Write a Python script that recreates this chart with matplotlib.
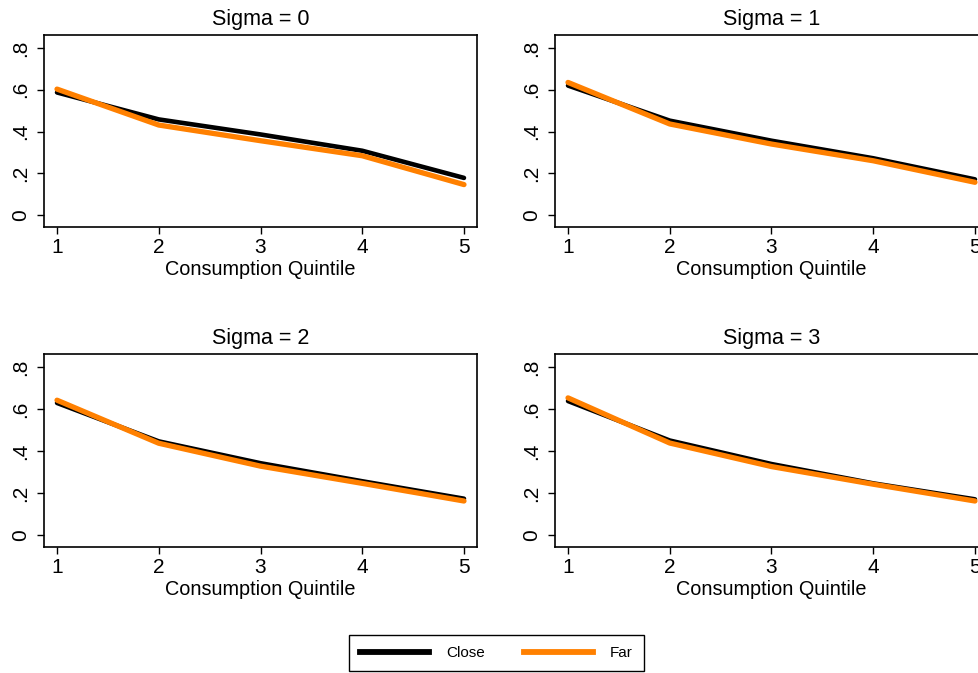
import numpy as np
import matplotlib
matplotlib.use('Agg')
import matplotlib.pyplot as plt
from matplotlib.lines import Line2D

plt.rcParams['font.family'] = ['Liberation Sans', 'DejaVu Sans']

quintiles = [1, 2, 3, 4, 5]
sigmas = [0, 1, 2, 3]

# share of households
close_s0 = [0.587, 0.458, 0.386, 0.308, 0.178]
far_s0 = [0.603, 0.431, 0.356, 0.284, 0.146]
close_s1 = [0.620, 0.452, 0.356, 0.272, 0.171]
far_s1 = [0.635, 0.436, 0.340, 0.260, 0.157]
close_s2 = [0.629, 0.446, 0.342, 0.256, 0.173]
far_s2 = [0.642, 0.437, 0.328, 0.246, 0.162]
close_s3 = [0.638, 0.450, 0.338, 0.246, 0.170]
far_s3 = [0.653, 0.438, 0.326, 0.242, 0.162]

close_all = [close_s0, close_s1, close_s2, close_s3]
far_all = [far_s0, far_s1, far_s2, far_s3]

yticks = [0, 0.2, 0.4, 0.6, 0.8]
ylabels = ['0', '.2', '.4', '.6', '.8']

orange = '#ff8000'

fig = plt.figure(figsize=(9.79, 6.73), dpi=100)

W, H = 979, 673
# panel boxes in pixels: left, top, width, height
boxes = [(44, 35, 433, 192), (555, 35, 433, 192),
         (44, 354, 433, 193), (555, 354, 433, 193)]

for i, (l, t, w, h) in enumerate(boxes):
    ax = fig.add_axes([l / W, 1 - (t + h) / H, w / W, h / H])
    ax.plot(quintiles, close_all[i], color='black', lw=3.3, solid_capstyle='round', zorder=2)
    ax.plot(quintiles, far_all[i], color=orange, lw=3.8, solid_capstyle='round', zorder=3)
    ax.set_xlim(0.872, 5.128)
    ax.set_ylim(-0.057, 0.862)
    ax.set_xticks(quintiles)
    ax.set_yticks(yticks)
    ax.set_yticklabels(ylabels, rotation=90, va='center')
    ax.tick_params(axis='y', length=5, width=1, labelsize=15, pad=5)
    ax.tick_params(axis='x', length=5, width=1, labelsize=15, pad=3)
    for sp in ax.spines.values():
        sp.set_linewidth(1.2)
    ax.set_xlabel('Consumption Quintile', fontsize=14.3, labelpad=2)
    ax.set_title('Sigma = ' + str(sigmas[i]), fontsize=15.5, pad=7)

handles = [Line2D([], [], color='black', lw=4.2),
           Line2D([], [], color=orange, lw=4.2)]
leg = fig.legend(handles, ['Close', 'Far'], loc='center',
                 bbox_to_anchor=(496.5 / W, 1 - 653 / H), ncol=2,
                 fontsize=11, fancybox=False, edgecolor='black',
                 handlelength=4.5, handletextpad=1.1, columnspacing=2.6,
                 borderpad=0.75, framealpha=1)
leg.get_frame().set_linewidth(1.0)

fig.savefig('out.png', dpi=100)
